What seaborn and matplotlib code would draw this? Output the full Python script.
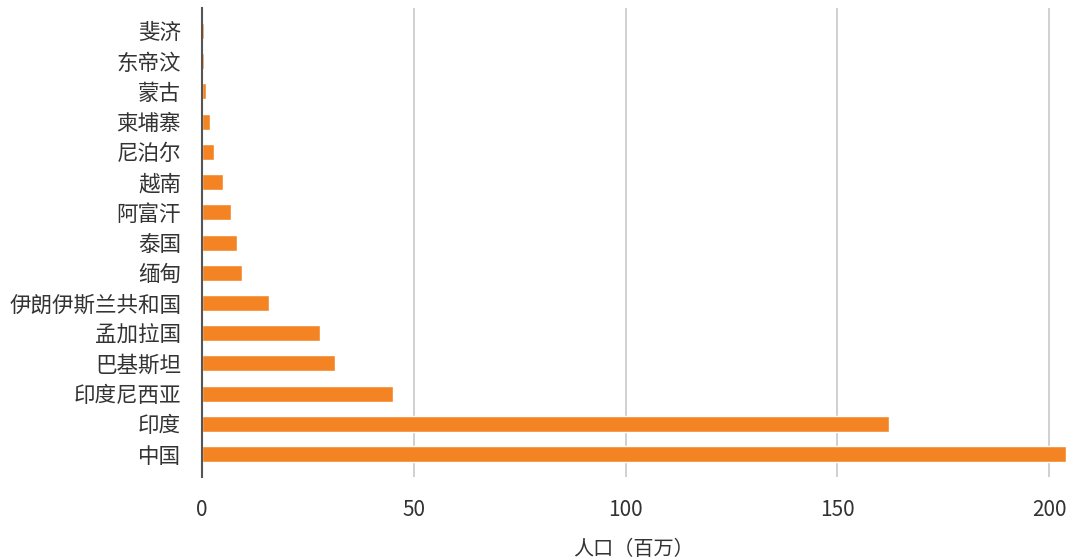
import matplotlib
matplotlib.use("Agg")
import matplotlib.pyplot as plt
import seaborn as sns
import pandas as pd

countries = ["斐济", "东帝汶", "蒙古", "柬埔寨", "尼泊尔", "越南", "阿富汗", "泰国",
             "缅甸", "伊朗伊斯兰共和国", "孟加拉国", "巴基斯坦", "印度尼西亚", "印度", "中国"]
population = [0.4, 0.4, 0.9, 1.9, 2.8, 5.0, 6.8, 8.3, 9.4, 15.8, 27.9, 31.4, 45.1, 162.2, 204.0]
x_ticks = [0, 50, 100, 150, 200]
x_label = "人口（百万）"

sns.set_style("white")
plt.rcParams["font.family"] = ["Noto Sans CJK SC", "DejaVu Sans"]

df = pd.DataFrame({"country": countries, "population": population})

fig = plt.figure(figsize=(10.71, 5.6), dpi=100)
ax = fig.add_axes([0.1886, 0.148, 0.8067, 0.8377])

sns.barplot(data=df, x="population", y="country", orient="h", color="#F48423",
            saturation=1, width=0.53, ax=ax, zorder=3)

ax.set_xlim(0, 204)
ax.set_ylim(len(countries) - 0.24, -0.76)
ax.set_xticks(x_ticks)
ax.grid(axis="x", color="#c4c4c4", linewidth=1.1, zorder=0)
ax.grid(axis="y", visible=False)

for side in ["top", "right", "bottom"]:
    ax.spines[side].set_visible(False)
ax.spines["left"].set_color("#555555")
ax.spines["left"].set_linewidth(1.5)
ax.spines["left"].set_zorder(4)

ax.tick_params(axis="both", length=0, labelcolor="#333333")
ax.tick_params(axis="y", pad=15, labelsize=15.5)
ax.tick_params(axis="x", pad=15.5, labelsize=15)
ax.set_ylabel("")
ax.set_xlabel(x_label, fontsize=14.5, color="#333333", labelpad=13)

fig.savefig("out.png", dpi=100, facecolor="white")
